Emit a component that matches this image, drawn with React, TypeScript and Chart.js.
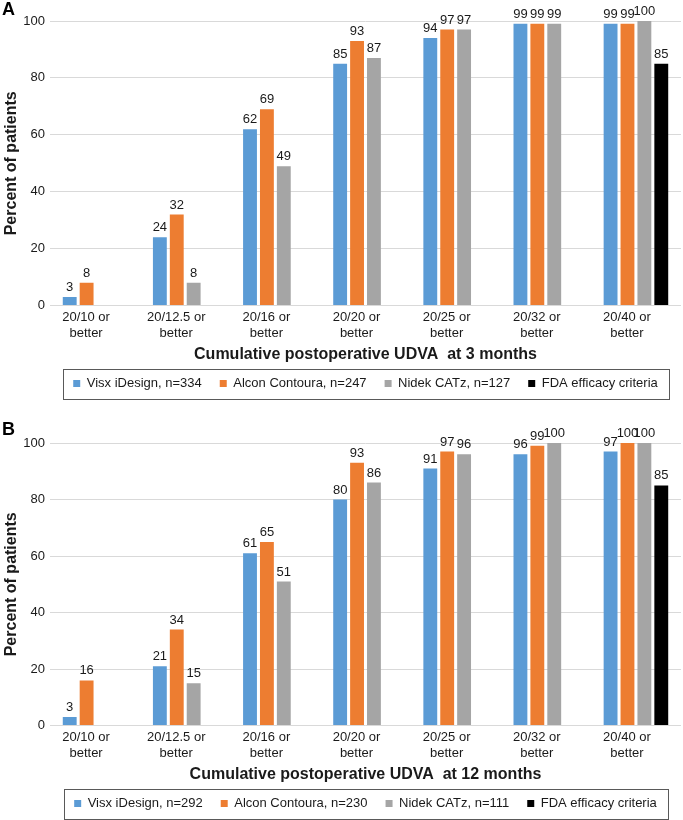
import React, { useEffect, useRef } from "react";
import { Chart, registerables } from "chart.js";
Chart.register(...registerables);

const categories: string[][] = [
  ["20/10 or", "better"],
  ["20/12.5 or", "better"],
  ["20/16 or", "better"],
  ["20/20 or", "better"],
  ["20/25 or", "better"],
  ["20/32 or", "better"],
  ["20/40 or", "better"],
];

const yTicks = [0, 20, 40, 60, 80, 100];

// Panel A (3 months)
const namesA = ["Visx iDesign, n=334", "Alcon Contoura, n=247", "Nidek CATz, n=127", "FDA efficacy criteria"];
const visxA = [3, 24, 62, 85, 94, 99, 99];
const alconA = [8, 32, 69, 93, 97, 99, 99];
const nidekA = [null, 8, 49, 87, 97, 99, 100];
const fdaA = [null, null, null, null, null, null, 85];
const titleA = "Cumulative postoperative UDVA  at 3 months";

// Panel B (12 months)
const namesB = ["Visx iDesign, n=292", "Alcon Contoura, n=230", "Nidek CATz, n=111", "FDA efficacy criteria"];
const visxB = [3, 21, 61, 80, 91, 96, 97];
const alconB = [16, 34, 65, 93, 97, 99, 100];
const nidekB = [null, 15, 51, 86, 96, 100, 100];
const fdaB = [null, null, null, null, null, null, 85];
const titleB = "Cumulative postoperative UDVA  at 12 months";

const colors = ["#5b9bd5", "#ed7d31", "#a5a5a5", "#000000"];
const FONT = "'Liberation Sans', Arial, sans-serif";
const TEXT = "#1a1a1a";

const valueLabels = {
  id: "valueLabels",
  afterDatasetsDraw(chart: any) {
    const ctx = chart.ctx;
    ctx.save();
    ctx.font = `13px ${FONT}`;
    ctx.fillStyle = TEXT;
    ctx.textAlign = "center";
    ctx.textBaseline = "bottom";
    chart.data.datasets.forEach((ds: any, i: number) => {
      const meta = chart.getDatasetMeta(i);
      meta.data.forEach((el: any, j: number) => {
        const v = ds.data[j];
        if (v === null || v === undefined) return;
        ctx.fillText(String(v), el.x, el.y - 3);
      });
    });
    ctx.restore();
  },
};

const legendBorder = {
  id: "legendBorder",
  afterDraw(chart: any) {
    const lg = chart.legend;
    if (!lg || !lg.legendHitBoxes || !lg.legendHitBoxes.length) return;
    const boxes = lg.legendHitBoxes;
    let minX = Infinity, maxX = -Infinity, cy = 0;
    boxes.forEach((b: any) => {
      minX = Math.min(minX, b.left);
      maxX = Math.max(maxX, b.left + b.width);
      cy = b.top + b.height / 2;
    });
    const ctx = chart.ctx;
    ctx.save();
    ctx.strokeStyle = "#595959";
    ctx.lineWidth = 1;
    ctx.strokeRect(Math.round(minX - 10) + 0.5, Math.round(cy - 15) + 0.5, Math.round(maxX - minX + 21), 30);
    ctx.restore();
  },
};

function Panel(props: { names: string[]; series: (number | null)[][]; xTitle: string; padTop: number }) {
  const ref = useRef<HTMLCanvasElement>(null);
  useEffect(() => {
    if (!ref.current) return;
    const chart = new Chart(ref.current, {
      type: "bar",
      data: {
        labels: categories,
        datasets: props.series.map((d, i) => ({
          label: props.names[i],
          data: d,
          backgroundColor: colors[i],
          borderWidth: 0,
          categoryPercentage: 0.75,
          barPercentage: 0.82,
        })),
      },
      options: {
        animation: false,
        responsive: false,
        maintainAspectRatio: false,
        layout: { padding: { top: props.padTop, right: 2, left: 0, bottom: 0 } },
        plugins: {
          tooltip: { enabled: false },
          legend: {
            position: "bottom",
            fullSize: false,
            labels: {
              boxWidth: 7,
              boxHeight: 7,
              padding: 18,
              color: TEXT,
              font: { family: FONT, size: 13 },
            },
          },
        },
        scales: {
          x: {
            grid: { display: false, drawTicks: false },
            border: { display: false },
            ticks: {
              color: TEXT,
              font: { family: FONT, size: 13, lineHeight: 1.2 },
              padding: 4,
              labelOffset: -9,
              maxRotation: 0,
              autoSkip: false,
            },
            title: {
              display: true,
              text: props.xTitle,
              color: TEXT,
              font: { family: FONT, size: 16, weight: "bold" },
              padding: { top: 0, bottom: -5 },
            },
          },
          y: {
            min: 0,
            max: 100,
            afterBuildTicks: (axis: any) => {
              axis.ticks = yTicks.map((v) => ({ value: v }));
            },
            afterFit: (axis: any) => {
              axis.width = 50;
            },
            grid: { color: "#d9d9d9", drawTicks: false, lineWidth: 1 },
            border: { display: false },
            ticks: {
              color: TEXT,
              font: { family: FONT, size: 13 },
              padding: 5,
            },
            title: {
              display: true,
              text: "Percent of patients",
              color: TEXT,
              font: { family: FONT, size: 16, weight: "bold" },
              padding: { top: 1.5, bottom: 0 },
            },
          },
        },
      },
      plugins: [valueLabels, legendBorder],
    });
    return () => chart.destroy();
  }, []);
  return <canvas ref={ref} width={683} height={400} style={{ display: "block", width: 683, height: 400 }} />;
}

export default function App() {
  useEffect(() => {
    document.body.style.margin = "0";
    document.body.style.overflow = "hidden";
  }, []);
  const letter: React.CSSProperties = {
    position: "absolute",
    left: 2,
    fontFamily: FONT,
    fontWeight: "bold",
    fontSize: 18,
    color: "#000",
    lineHeight: "18px",
  };
  return (
    <div style={{ position: "relative", width: 683, height: 820, background: "#fff", overflow: "hidden" }}>
      <div style={{ position: "absolute", top: 0, left: 0 }}>
        <Panel names={namesA} series={[visxA, alconA, nidekA, fdaA]} xTitle={titleA} padTop={21} />
      </div>
      <div style={{ position: "absolute", top: 420, left: 0 }}>
        <Panel names={namesB} series={[visxB, alconB, nidekB, fdaB]} xTitle={titleB} padTop={23} />
      </div>
      <div style={{ ...letter, top: 0 }}>A</div>
      <div style={{ ...letter, top: 420 }}>B</div>
    </div>
  );
}
